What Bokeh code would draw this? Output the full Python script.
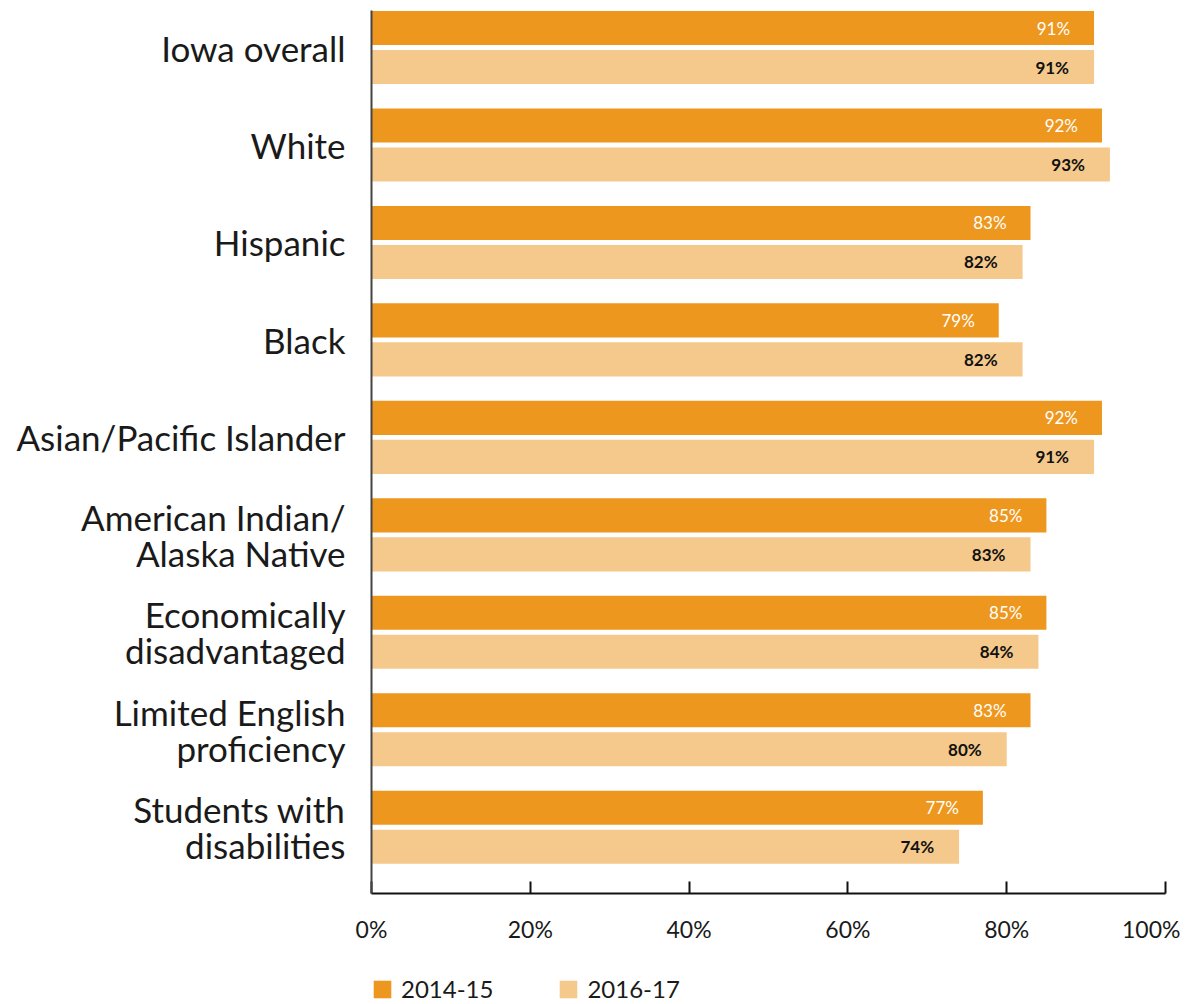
from bokeh.plotting import figure
from bokeh.models import (ColumnDataSource, FixedTicker, PrintfTickFormatter,
                          Legend, LegendItem, Range1d)
from bokeh.layouts import column
from bokeh.embed import file_html
from bokeh.resources import INLINE
from bokeh.core.properties import value

categories = ["Iowa overall", "White", "Hispanic", "Black",
              "Asian/Pacific Islander", "American Indian/\nAlaska Native",
              "Economically\ndisadvantaged", "Limited English\nproficiency",
              "Students with\ndisabilities"]
series_names = ["2014-15", "2016-17"]
vals_2014 = [91, 92, 83, 79, 92, 85, 85, 83, 77]
vals_2016 = [91, 93, 82, 82, 91, 83, 84, 80, 74]
x_ticks = [0, 20, 40, 60, 80, 100]

C_DARK = "#EE971E"
C_LIGHT = "#F5C98C"
FONT = "Lato"

pos = [-i for i in range(len(categories))]
off = 0.2
src_a = ColumnDataSource(dict(y=[p + off for p in pos], v=vals_2014,
                              lab=[f"{v}%" for v in vals_2014]))
src_b = ColumnDataSource(dict(y=[p - off for p in pos], v=vals_2016,
                              lab=[f"{v}%" for v in vals_2016]))

p = figure(width=1180, height=955, output_backend="svg",
           toolbar_location=None,
           x_range=Range1d(0, 100), y_range=Range1d(-8.68, 0.38),
           min_border_left=371, min_border_right=15, min_border_top=10,
           min_border_bottom=62)
p.outline_line_color = None
p.grid.grid_line_color = None

p.hbar(y="y", left=0, right="v", height=0.35, source=src_a,
       fill_color=C_DARK, line_color=None)
p.hbar(y="y", left=0, right="v", height=0.35, source=src_b,
       fill_color=C_LIGHT, line_color=None)

p.text(x="v", y="y", text="lab", source=src_a, x_offset=-24,
       text_align="right", text_baseline="middle", text_color="white",
       text_font=value(FONT), text_font_size="17px")
p.text(x="v", y="y", text="lab", source=src_b, x_offset=-25,
       text_align="right", text_baseline="middle", text_color="#111111",
       text_font=value(FONT), text_font_size="17px", text_font_style="bold")

# y axis
p.yaxis.ticker = FixedTicker(ticks=pos)
p.yaxis.major_label_overrides = {pv: c for pv, c in zip(pos, categories)}
p.yaxis.major_tick_line_color = None
p.yaxis.minor_tick_line_color = None
p.yaxis.axis_line_color = "#444444"
p.yaxis.axis_line_width = 2
p.yaxis.major_label_text_font = FONT
p.yaxis.major_label_text_font_size = "35px"
p.yaxis.major_label_text_color = "#1a1a1a"
p.yaxis.major_label_text_line_height = 0.85
p.yaxis.major_label_standoff = 20

# x axis
p.xaxis.ticker = FixedTicker(ticks=x_ticks)
p.xaxis.formatter = PrintfTickFormatter(format="%d%%")
p.xaxis.major_tick_in = 12
p.xaxis.major_tick_out = 0
p.xaxis.major_tick_line_width = 2
p.xaxis.major_tick_line_color = "#111111"
p.xaxis.minor_tick_line_color = None
p.xaxis.axis_line_color = "#111111"
p.xaxis.axis_line_width = 2
p.xaxis.major_label_text_font = FONT
p.xaxis.major_label_text_font_size = "23px"
p.xaxis.major_label_text_color = "#1a1a1a"
p.xaxis.major_label_standoff = 21

# legend strip (its bars lie outside this strip's y range, only the legend shows)
p2 = figure(width=1180, height=48, output_backend="svg", toolbar_location=None,
            x_range=Range1d(0, 100), y_range=Range1d(100, 101),
            min_border_left=340, min_border_right=15, min_border_top=0,
            min_border_bottom=0, x_axis_type=None, y_axis_type=None)
p2.outline_line_color = None
p2.grid.grid_line_color = None
la = p2.hbar(y="y", left=0, right="v", height=0.35, source=src_a,
             fill_color=C_DARK, line_color=None)
lb = p2.hbar(y="y", left=0, right="v", height=0.35, source=src_b,
             fill_color=C_LIGHT, line_color=None)
legend = Legend(items=[LegendItem(label=series_names[0], renderers=[la]),
                       LegendItem(label=series_names[1], renderers=[lb])],
                orientation="horizontal", location="bottom_left",
                glyph_width=22, glyph_height=22, label_standoff=8,
                spacing=64, padding=0, margin=0,
                border_line_color=None, background_fill_alpha=0,
                label_text_font=FONT, label_text_font_size="24px",
                label_text_color="#1a1a1a")
p2.add_layout(legend, "center")

layout = column(p, p2, spacing=0)
open("out.html", "w").write(file_html(layout, INLINE))
